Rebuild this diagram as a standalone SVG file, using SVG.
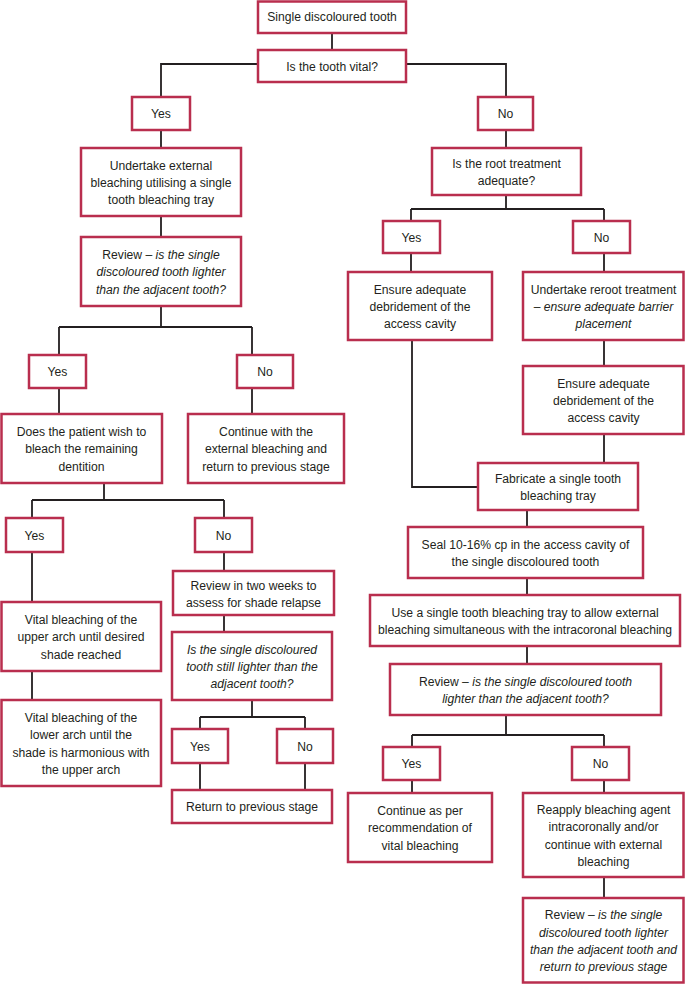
<svg xmlns="http://www.w3.org/2000/svg" width="685" height="984" viewBox="0 0 685 984">
<style>
.b{fill:#fff;stroke:#b92e4e;stroke-width:2.5}
.c{fill:none;stroke:#231f20;stroke-width:1.8}
.t{font-family:"Liberation Sans",Arial,sans-serif;font-size:13.5px;fill:#231f20;text-anchor:middle}
.i{font-style:italic}
</style>
<rect width="685" height="984" fill="#fff"/>
<g id="connectors">
<path class="c" d="M332,33V50"/>
<path class="c" d="M258,64H161V97M406,64H506V97"/>
<path class="c" d="M161,130V148M161,216V237M161,306V327M59,327H252M59,327V355M252,327V355"/>
<path class="c" d="M59,388V414M252,388V414M104,483V500M32,500H224M32,500V518M224,500V518"/>
<path class="c" d="M32,552V602M32,671V700M224,552V571M224,614V632M252,700V717M200,717H305M200,717V729M305,717V729M200,763V790M305,763V790"/>
<path class="c" d="M506,130V148M506,195V209M411,209H604M411,209V221M604,209V221M411,253V272M604,253V272"/>
<path class="c" d="M604,340V366M604,434V463M412,340V487H478"/>
<path class="c" d="M527,510V527M527,578V595M527,646V664M506,715V735M412,735H604M412,735V747M604,735V747M412,780V793M604,780V793M604,877V898"/>
</g>
<g id="n_start"><rect class="b" x="258" y="1.5" width="148" height="31.5"/><text class="t" transform="translate(332 0) scale(0.9 1)"><tspan x="0" y="21.5">Single discoloured tooth</tspan></text></g>
<g id="n_vital"><rect class="b" x="258" y="50" width="148" height="32"/><text class="t" transform="translate(332 0) scale(0.9 1)"><tspan x="0" y="71">Is the tooth vital?</tspan></text></g>
<g id="n_yes1"><rect class="b" x="132" y="97" width="58" height="33"/><text class="t" transform="translate(161 0) scale(0.9 1)"><tspan x="0" y="118.5">Yes</tspan></text></g>
<g id="n_no1"><rect class="b" x="478" y="97" width="55" height="33"/><text class="t" transform="translate(505.5 0) scale(0.9 1)"><tspan x="0" y="118.5">No</tspan></text></g>
<g id="n_ext"><rect class="b" x="81" y="148" width="160" height="68"/><text class="t" transform="translate(161 0) scale(0.9 1)"><tspan x="0" y="169.7">Undertake external</tspan><tspan x="0" y="187">bleaching utilising a single</tspan><tspan x="0" y="204.3">tooth bleaching tray</tspan></text></g>
<g id="n_rev1"><rect class="b" x="81" y="237" width="160" height="69"/><text class="t" transform="translate(161 0) scale(0.9 1)"><tspan x="0" y="259.2">Review – <tspan class="i">is the single</tspan></tspan><tspan class="i" x="0" y="276.5">discoloured tooth lighter</tspan><tspan class="i" x="0" y="293.8">than the adjacent tooth?</tspan></text></g>
<g id="n_yes2"><rect class="b" x="29" y="355" width="57" height="33"/><text class="t" transform="translate(57.5 0) scale(0.9 1)"><tspan x="0" y="376.5">Yes</tspan></text></g>
<g id="n_no2"><rect class="b" x="237" y="355" width="56" height="33"/><text class="t" transform="translate(265 0) scale(0.9 1)"><tspan x="0" y="376.5">No</tspan></text></g>
<g id="n_wish"><rect class="b" x="1.5" y="414" width="160.5" height="69"/><text class="t" transform="translate(81.5 0) scale(0.9 1)"><tspan x="0" y="436.2">Does the patient wish to</tspan><tspan x="0" y="453.5">bleach the remaining</tspan><tspan x="0" y="470.8">dentition</tspan></text></g>
<g id="n_cont"><rect class="b" x="188" y="414" width="156" height="69"/><text class="t" transform="translate(266 0) scale(0.9 1)"><tspan x="0" y="436.2">Continue with the</tspan><tspan x="0" y="453.5">external bleaching and</tspan><tspan x="0" y="470.8">return to previous stage</tspan></text></g>
<g id="n_yes3"><rect class="b" x="6" y="518" width="57" height="34"/><text class="t" transform="translate(34.5 0) scale(0.9 1)"><tspan x="0" y="540">Yes</tspan></text></g>
<g id="n_no3"><rect class="b" x="195" y="518" width="57" height="34"/><text class="t" transform="translate(223.5 0) scale(0.9 1)"><tspan x="0" y="540">No</tspan></text></g>
<g id="n_upper"><rect class="b" x="1.5" y="602" width="159.5" height="69"/><text class="t" transform="translate(81 0) scale(0.9 1)"><tspan x="0" y="624.2">Vital bleaching of the</tspan><tspan x="0" y="641.5">upper arch until desired</tspan><tspan x="0" y="658.8">shade reached</tspan></text></g>
<g id="n_lower"><rect class="b" x="1.5" y="700" width="159.5" height="86"/><text class="t" transform="translate(81 0) scale(0.9 1)"><tspan x="0" y="722">Vital bleaching of the</tspan><tspan x="0" y="739.3">lower arch until the</tspan><tspan x="0" y="756.6">shade is harmonious with</tspan><tspan x="0" y="773.9">the upper arch</tspan></text></g>
<g id="n_two"><rect class="b" x="173" y="571" width="161" height="44"/><text class="t" transform="translate(253.5 0) scale(0.9 1)"><tspan x="0" y="590">Review in two weeks to</tspan><tspan x="0" y="607.3">assess for shade relapse</tspan></text></g>
<g id="n_still"><rect class="b" x="172" y="632" width="160" height="68"/><text class="t i" transform="translate(252 0) scale(0.9 1)"><tspan x="0" y="653.7">Is the single discoloured</tspan><tspan x="0" y="671">tooth still lighter than the</tspan><tspan x="0" y="688.3">adjacent tooth?</tspan></text></g>
<g id="n_yes4"><rect class="b" x="172" y="729" width="56" height="34"/><text class="t" transform="translate(200 0) scale(0.9 1)"><tspan x="0" y="751">Yes</tspan></text></g>
<g id="n_no4"><rect class="b" x="277" y="729" width="56" height="34"/><text class="t" transform="translate(305 0) scale(0.9 1)"><tspan x="0" y="751">No</tspan></text></g>
<g id="n_return"><rect class="b" x="172" y="790" width="160" height="33"/><text class="t" transform="translate(252 0) scale(0.9 1)"><tspan x="0" y="811.5">Return to previous stage</tspan></text></g>
<g id="n_root"><rect class="b" x="432" y="148" width="149" height="47"/><text class="t" transform="translate(506.5 0) scale(0.9 1)"><tspan x="0" y="168">Is the root treatment</tspan><tspan x="0" y="185.3">adequate?</tspan></text></g>
<g id="n_yes5"><rect class="b" x="383" y="221" width="57" height="32"/><text class="t" transform="translate(411.5 0) scale(0.9 1)"><tspan x="0" y="242">Yes</tspan></text></g>
<g id="n_no5"><rect class="b" x="573" y="221" width="57" height="32"/><text class="t" transform="translate(601.5 0) scale(0.9 1)"><tspan x="0" y="242">No</tspan></text></g>
<g id="n_debr1"><rect class="b" x="348" y="272" width="144" height="68"/><text class="t" transform="translate(420 0) scale(0.9 1)"><tspan x="0" y="293.7">Ensure adequate</tspan><tspan x="0" y="311">debridement of the</tspan><tspan x="0" y="328.3">access cavity</tspan></text></g>
<g id="n_reroot"><rect class="b" x="523" y="272" width="160.5" height="68"/><text class="t" transform="translate(603.5 0) scale(0.9 1)"><tspan x="0" y="293.7">Undertake reroot treatment</tspan><tspan x="0" y="311">– <tspan class="i">ensure adequate barrier</tspan></tspan><tspan class="i" x="0" y="328.3">placement</tspan></text></g>
<g id="n_debr2"><rect class="b" x="523" y="366" width="160.5" height="68"/><text class="t" transform="translate(603.5 0) scale(0.9 1)"><tspan x="0" y="387.7">Ensure adequate</tspan><tspan x="0" y="405">debridement of the</tspan><tspan x="0" y="422.3">access cavity</tspan></text></g>
<g id="n_fab"><rect class="b" x="478" y="463" width="160" height="47"/><text class="t" transform="translate(558 0) scale(0.9 1)"><tspan x="0" y="483">Fabricate a single tooth</tspan><tspan x="0" y="500.3">bleaching tray</tspan></text></g>
<g id="n_seal"><rect class="b" x="408" y="527" width="235" height="51"/><text class="t" transform="translate(525.5 0) scale(0.9 1)"><tspan x="0" y="549">Seal 10-16% cp in the access cavity of</tspan><tspan x="0" y="566.3">the single discoloured tooth</tspan></text></g>
<g id="n_use"><rect class="b" x="370" y="595" width="310" height="51"/><text class="t" transform="translate(525 0) scale(0.9 1)"><tspan x="0" y="617">Use a single tooth bleaching tray to allow external</tspan><tspan x="0" y="634.3">bleaching simultaneous with the intracoronal bleaching</tspan></text></g>
<g id="n_rev2"><rect class="b" x="390" y="664" width="271" height="51"/><text class="t" transform="translate(525.5 0) scale(0.9 1)"><tspan x="0" y="686">Review – <tspan class="i">is the single discoloured tooth</tspan></tspan><tspan class="i" x="0" y="703.3">lighter than the adjacent tooth?</tspan></text></g>
<g id="n_yes6"><rect class="b" x="383" y="747" width="57" height="33"/><text class="t" transform="translate(411.5 0) scale(0.9 1)"><tspan x="0" y="768.5">Yes</tspan></text></g>
<g id="n_no6"><rect class="b" x="572" y="747" width="57" height="33"/><text class="t" transform="translate(600.5 0) scale(0.9 1)"><tspan x="0" y="768.5">No</tspan></text></g>
<g id="n_contvital"><rect class="b" x="348" y="793" width="144" height="69"/><text class="t" transform="translate(420 0) scale(0.9 1)"><tspan x="0" y="815.2">Continue as per</tspan><tspan x="0" y="832.5">recommendation of</tspan><tspan x="0" y="849.8">vital bleaching</tspan></text></g>
<g id="n_reapply"><rect class="b" x="523" y="793" width="160.5" height="84"/><text class="t" transform="translate(603.5 0) scale(0.9 1)"><tspan x="0" y="814">Reapply bleaching agent</tspan><tspan x="0" y="831.3">intracoronally and/or</tspan><tspan x="0" y="848.6">continue with external</tspan><tspan x="0" y="865.9">bleaching</tspan></text></g>
<g id="n_rev3"><rect class="b" x="523" y="898" width="160.5" height="84.5"/><text class="t" transform="translate(603.5 0) scale(0.9 1)"><tspan x="0" y="919.5">Review – <tspan class="i">is the single</tspan></tspan><tspan class="i" x="0" y="936.8">discoloured tooth lighter</tspan><tspan class="i" x="0" y="954.1">than the adjacent tooth and</tspan><tspan class="i" x="0" y="971.4">return to previous stage</tspan></text></g>
</svg>
